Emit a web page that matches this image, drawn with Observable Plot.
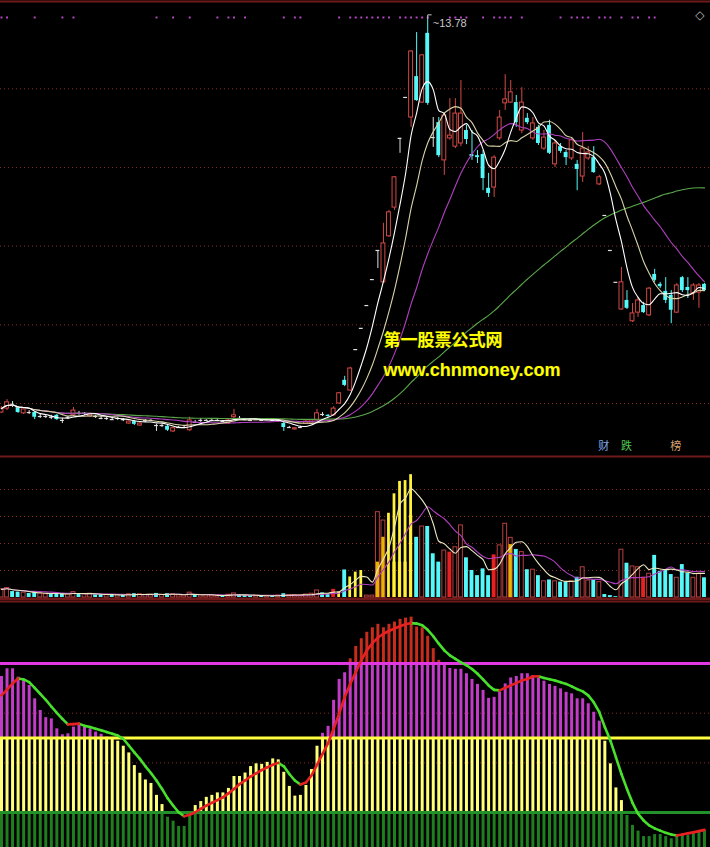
<!DOCTYPE html>
<html><head><meta charset="utf-8">
<script src="https://cdn.jsdelivr.net/npm/d3@7"></script>
<script src="https://cdn.jsdelivr.net/npm/@observablehq/plot@0.6"></script>
<style>
html,body{margin:0;padding:0;background:#000;}
#chart{width:710px;height:847px;background:#000;overflow:hidden;}
#chart svg{display:block;}
</style></head>
<body><div id="chart"></div>
<script>
// ---- price data (one entry per trading day) ----
const open = [3.77,3.87,3.98,3.90,3.75,3.77,3.77,3.67,3.67,3.65,
3.70,3.57,3.65,3.70,3.75,3.75,3.67,3.67,3.62,3.62,
3.59,3.62,3.59,3.49,3.54,3.44,3.57,3.57,3.44,3.44,
3.42,3.29,3.39,3.39,3.32,3.52,3.57,3.57,3.57,3.57,
3.54,3.49,3.65,3.62,3.59,3.57,3.59,3.57,3.59,3.57,
3.57,3.49,3.39,3.34,3.39,3.49,3.49,3.57,3.72,3.70,
3.70,4.00,4.59,4.33,5.37,5.91,6.49,7.15,7.89,7.08,
8.25,8.98,10.74,11.78,11.27,12.31,11.65,13.41,10.76,11.14,
10.18,10.74,10.53,10.61,10.94,10.33,10.30,10.33,9.47,9.49,
10.74,11.63,11.65,11.65,10.94,11.25,10.74,11.02,10.48,11.07,
10.08,10.53,10.38,10.23,10.08,9.77,10.23,10.25,9.57,8.78,
7.89,7.08,6.39,6.62,6.09,6.31,6.49,6.24,7.28,7.03,
6.85,6.75,6.31,7.20,6.95,6.80,6.82,7.03];
const close = [3.87,4.03,3.98,3.77,3.85,3.77,3.65,3.67,3.67,3.65,
3.59,3.57,3.65,3.82,3.75,3.75,3.72,3.67,3.62,3.62,
3.59,3.62,3.59,3.54,3.47,3.49,3.57,3.57,3.44,3.44,
3.32,3.37,3.39,3.39,3.57,3.52,3.57,3.57,3.57,3.57,
3.54,3.57,3.70,3.62,3.59,3.57,3.59,3.57,3.59,3.57,
3.57,3.39,3.39,3.37,3.39,3.54,3.57,3.75,3.72,3.67,
3.87,4.26,4.46,4.89,5.37,5.91,6.49,7.15,7.89,8.07,
8.86,9.75,10.74,11.78,12.95,11.70,12.85,11.63,10.76,10.30,
11.32,10.81,11.37,11.37,10.71,10.28,10.25,9.72,9.34,10.25,
11.27,11.73,11.91,11.14,11.65,11.14,11.12,10.61,10.76,10.36,
10.61,10.41,10.25,10.69,9.95,10.48,10.38,9.87,9.75,8.78,
7.89,7.08,7.08,6.42,6.29,6.62,6.31,6.92,7.13,6.97,
6.62,6.37,7.00,6.87,6.87,7.00,7.00,6.87];
const high = [3.92,4.10,4.05,3.92,3.87,3.82,3.80,3.72,3.70,3.70,
3.72,3.62,3.67,3.90,3.80,3.77,3.75,3.70,3.67,3.65,
3.65,3.65,3.62,3.57,3.57,3.52,3.59,3.59,3.47,3.47,
3.44,3.39,3.42,3.44,3.65,3.57,3.62,3.59,3.62,3.59,
3.57,3.59,3.85,3.67,3.62,3.59,3.62,3.59,3.62,3.59,
3.59,3.52,3.42,3.39,3.42,3.57,3.59,3.85,3.77,3.72,
3.92,4.28,4.69,4.92,5.37,5.91,6.49,7.15,7.89,8.58,
8.91,9.77,10.74,11.78,12.97,13.43,12.87,13.78,11.27,11.27,
11.40,11.75,11.75,12.21,11.07,10.94,10.43,10.43,9.85,10.30,
11.45,12.36,12.21,11.83,12.03,11.37,11.27,11.07,10.94,11.20,
10.69,10.61,10.43,10.74,10.18,10.89,10.53,10.53,9.80,8.78,
7.89,7.08,7.46,6.87,6.54,6.70,6.57,6.95,7.41,7.08,
7.20,6.87,7.05,7.23,7.20,7.05,7.05,7.05];
const low = [3.75,3.82,3.90,3.75,3.72,3.72,3.59,3.62,3.62,3.59,
3.57,3.49,3.59,3.67,3.70,3.70,3.65,3.62,3.59,3.57,
3.57,3.57,3.54,3.47,3.44,3.42,3.52,3.54,3.29,3.39,
3.29,3.26,3.37,3.37,3.29,3.49,3.52,3.54,3.54,3.54,
3.52,3.47,3.62,3.59,3.57,3.54,3.57,3.54,3.57,3.54,
3.52,3.29,3.37,3.32,3.37,3.47,3.47,3.54,3.67,3.65,
3.67,3.98,4.43,4.31,5.37,5.91,6.49,7.15,7.43,7.05,
8.22,8.91,10.36,11.78,11.02,11.68,11.63,11.58,10.51,10.25,
9.80,10.69,10.48,10.53,10.58,10.18,10.10,9.41,9.24,9.24,
10.69,11.45,11.63,11.02,10.86,11.09,10.69,10.56,10.43,10.33,
10.00,10.36,10.05,10.18,9.41,9.62,10.18,9.85,9.54,8.78,
7.89,7.08,6.37,6.39,6.06,6.19,6.29,6.21,7.08,6.92,
6.54,6.03,6.29,6.82,6.67,6.62,6.42,6.85];

// ---- volume ----
const volume = [30,35,22,20,18,15,20,14,12,12,
15,14,12,20,14,12,14,10,10,10,
9,9,9,12,14,12,10,10,15,10,
14,12,8,8,18,10,8,8,7,7,
8,10,15,8,7,7,6,7,6,6,
7,14,9,9,8,11,14,26,17,12,
30,20,102,76,94,100,7,7,316,285,
312,384,430,433,455,223,263,263,162,131,
174,168,186,267,147,100,81,106,81,158,
193,273,221,178,168,103,103,81,60,65,
60,57,57,60,75,112,63,65,57,11,
7,3,177,127,115,112,75,88,156,97,
100,85,73,122,90,73,88,73];
const hotDays = [61,63,64,65,70,71,72,73,74];      // highlighted (yellow) volume days
const redFillDays = [60,81,89,116];                 // solid red volume days
const innerDays = [68,69,71,72,73,74,92];           // inner (gold) volume component
const innerVals = [131,223,131,131,131,304,196];

// ---- indicator ----
const ind = [74.8,77.9,77.9,74.5,73.2,71.2,65.8,61.1,58.2,57.7,
53.7,51.3,51.7,54.4,55.1,54.4,53.7,52.4,51.5,50.4,
50.0,48.7,46.7,44.0,38.9,35.8,33.1,31.7,26.9,23.2,
18.1,16.5,14.4,14.4,20.0,22.8,24.4,26.1,26.9,27.9,
27.9,29.7,34.5,34.5,35.9,38.5,39.6,39.4,40.2,41.6,
41.2,36.2,30.5,26.6,26.9,30.9,37.3,46.7,51.9,54.7,
65.2,73.6,76.3,81.9,86.9,90.0,92.6,94.4,95.8,94.4,
95.8,96.7,97.8,98.3,98.7,94.7,94.4,91.0,86.0,81.3,
79.3,78.0,77.7,77.7,75.9,73.6,71.6,69.2,66.0,66.4,
68.4,71.8,74.2,74.8,75.9,75.9,75.2,74.2,72.9,71.6,
70.8,69.8,68.4,67.8,65.8,65.8,63.8,60.4,56.8,48.7,
39.6,29.9,24.8,18.8,14.8,12.5,10.3,10.3,11.1,11.1,
10.3,9.4,10.7,10.7,10.7,11.4,12.0,12.7];
const sig = [67.2,69.5,72.0,74.0,73.6,72.5,70.2,67.8,65.4,62.7,
60.1,57.7,55.5,55.6,55.8,54.9,54.4,53.7,53.1,52.4,
51.7,51.0,49.7,47.0,44.2,41.6,38.6,35.9,32.9,29.5,
25.8,22.8,20.1,18.5,19.1,20.1,21.5,22.8,23.9,25.0,
26.1,27.7,29.5,31.4,32.9,34.5,35.8,37.1,38.2,39.2,
40.0,38.6,35.5,32.9,31.3,32.1,34.9,39.2,43.6,47.9,
53.7,59.8,66.5,71.8,76.5,81.3,85.3,88.2,90.4,92.0,
93.1,94.1,95.0,95.8,96.3,96.1,95.4,93.6,91.0,88.0,
85.3,83.3,81.9,80.5,79.3,77.8,75.9,73.6,71.2,69.4,
69.2,70.2,71.2,72.1,73.2,73.8,74.8,74.9,74.2,73.7,
73.2,72.5,71.8,70.8,69.7,68.8,67.2,64.4,60.4,54.4,
49.0,42.3,35.5,29.5,23.9,19.5,16.8,14.8,13.6,12.7,
11.8,11.1,10.7,11.1,11.6,12.0,12.5,13.0];
const levels = [20, 50, 80];
const indGrid = [40, 60];
const priceGrid = [4, 6, 8, 10, 12];
const volGrid = [100, 200, 300, 400];
const signalDays = [0,1,6,11,13,28,31,34,39,41,42,44,51,53,54,61,63,64,65,66,67,68,69,70,72,73,74,75,76,77,81,82,83,84,87,89,90,91,92,94,101,103,104,105,106,108,109,110,112,114,115,117,118];
const peak = {i: 77, p: 13.78};
const tagText = ["财", "跌", "榜"];
const tagDay = [108.8, 112.9, 121.8];
const tagColor = ["#7fa8e8", "#52c852", "#d8a070"];

// ---- build table ----
const days = close.map((c, i) => ({
  i, o: open[i], h: high[i], l: low[i], c, v: volume[i],
  prev: i > 0 ? close[i - 1] : open[i], ind: ind[i], sig: sig[i]
}));
days.forEach(d => {
  d.up = d.c > d.o || (d.c === d.o && d.c >= d.prev);
  d.hot = hotDays.includes(d.i);
  d.redFill = redFillDays.includes(d.i);
});
const innerData = innerDays.map((i, k) => ({i, v: innerVals[k]}));
const tags = tagText.map((t, k) => ({t, i: tagDay[k], c: tagColor[k]}));

const W = 710;
const X = {domain: [-0.18, 128.09], axis: null};
const RED = "#d24a46", CYAN = "#54f8f8", GRID = "#8a2a2a", SEP = "#6e1a1a";
const bw = 0.35;

const upC = days.filter(d => d.c > d.o);
const dnC = days.filter(d => d.c < d.o);
const flC = days.filter(d => d.c === d.o);

// ---- top panel: candles ----
const topPlot = Plot.plot({
  width: W, height: 455, margin: 0, x: X,
  y: {domain: [2.678, 14.245], axis: null},
  style: {background: "#000"},
  marks: [
    Plot.ruleY(priceGrid, {stroke: GRID, strokeDasharray: "1,3"}),
    Plot.ruleY([14.245], {stroke: SEP, strokeWidth: 2, dy: 1}),
    Plot.ruleX(upC, {x: "i", y1: "l", y2: "h", stroke: RED}),
    Plot.rect(upC, {x1: d => d.i - bw, x2: d => d.i + bw, y1: "o", y2: "c", fill: "#000", stroke: RED}),
    Plot.ruleX(dnC, {x: "i", y1: "l", y2: "h", stroke: CYAN}),
    Plot.rect(dnC, {x1: d => d.i - bw, x2: d => d.i + bw, y1: "o", y2: "c", fill: CYAN}),
    Plot.ruleX(flC, {x: "i", y1: "l", y2: "h", stroke: "#e0e0e0"}),
    Plot.ruleY(flC, {y: "c", x1: d => d.i - bw, x2: d => d.i + bw, stroke: "#e0e0e0", strokeWidth: 1.2}),
    Plot.lineY(days, Plot.windowY({k: 60, anchor: "end"}, {x: "i", y: "c", stroke: "#5aa84a", strokeWidth: 1.1, curve: "monotone-x"})),
    Plot.lineY(days, Plot.windowY({k: 20, anchor: "end"}, {x: "i", y: "c", stroke: "#b040c0", strokeWidth: 1.1, curve: "monotone-x"})),
    Plot.lineY(days, Plot.windowY({k: 10, anchor: "end"}, {x: "i", y: "c", stroke: "#d8d4a8", strokeWidth: 1.1, curve: "monotone-x"})),
    Plot.lineY(days, Plot.windowY({k: 5, anchor: "end"}, {x: "i", y: "c", stroke: "#ffffff", strokeWidth: 1.1, curve: "monotone-x"})),
    Plot.dot(signalDays, {x: d => d, frameAnchor: "top", dy: 17, r: 1.1, symbol: "square", fill: "#b848c8"}),
    // max-price flag
    Plot.link([peak], {x1: "i", y1: "p", x2: "i", y2: d => d.p + 0.1, stroke: "#c8c8c8"}),
    Plot.link([peak], {x1: "i", y1: d => d.p + 0.1, x2: d => d.i + 0.7, y2: d => d.p + 0.1, stroke: "#c8c8c8"}),
    Plot.text([peak], {x: "i", y: "p", text: d => "~" + d.p.toFixed(2), dx: 5, dy: 5, textAnchor: "start", fill: "#c8c8c8", fontSize: 11, fontFamily: "Liberation Sans"}),
    Plot.text(["◇"], {frameAnchor: "top-right", dx: -6, dy: 10, fill: "#b0b0b0", fontSize: 12, fontFamily: "DejaVu Sans"}),
    Plot.text(["第一股票公式网"], {frameAnchor: "top-left", dx: 383, dy: 340, lineAnchor: "middle", textAnchor: "start", fill: "#ffff00", fontSize: 17, fontWeight: "bold", fontFamily: "Noto Sans CJK SC", stroke: "#3a3a00", strokeWidth: 0.6, paintOrder: "stroke"}),
    Plot.text(["www.chnmoney.com"], {frameAnchor: "top-left", dx: 383, dy: 370, lineAnchor: "middle", textAnchor: "start", fill: "#ffff00", fontSize: 18, fontWeight: "bold", fontFamily: "Liberation Sans", stroke: "#3a3a00", strokeWidth: 0.6, paintOrder: "stroke"}),
    Plot.text(tags, {x: "i", frameAnchor: "bottom", dy: -6, text: "t", fill: "c", fontSize: 11, fontFamily: "Noto Sans CJK SC"})
  ]
});

// ---- volume panel ----
const volUp = days.filter(d => d.up && !d.hot && !d.redFill);
const volDn = days.filter(d => !d.up && !d.hot && !d.redFill);
const volPlot = Plot.plot({
  width: W, height: 145, margin: 0, x: X,
  y: {domain: [-11.1, 526], axis: null},
  style: {background: "#000"},
  marks: [
    Plot.ruleY(volGrid, {stroke: GRID, strokeDasharray: "1,3"}),
    Plot.ruleY([526], {stroke: SEP, strokeWidth: 2, dy: 1}),
    Plot.ruleY([-11.1], {stroke: SEP, strokeWidth: 3, dy: -1.5}),
    Plot.rect(volUp, {x1: d => d.i - bw, x2: d => d.i + bw, y1: 0, y2: "v", fill: "#000", stroke: "#b84040"}),
    Plot.rect(volDn, {x1: d => d.i - bw, x2: d => d.i + bw, y1: 0, y2: "v", fill: CYAN}),
    Plot.rect(days.filter(d => d.redFill), {x1: d => d.i - bw, x2: d => d.i + bw, y1: 0, y2: "v", fill: "#e82020"}),
    Plot.rect(innerData, {x1: d => d.i - 0.3, x2: d => d.i + 0.3, y1: 0, y2: "v", fill: "#e8b400"}),
    Plot.rect(days.filter(d => d.hot), {x1: d => d.i - 0.25, x2: d => d.i + 0.25, y1: 0, y2: "v", fill: "#fff23c"}),
    Plot.lineY(days, Plot.windowY({k: 10, anchor: "end"}, {x: "i", y: "v", stroke: "#b040c0", strokeWidth: 1.1, curve: "monotone-x"})),
    Plot.lineY(days, Plot.windowY({k: 5, anchor: "end"}, {x: "i", y: "v", stroke: "#ece8c0", strokeWidth: 1.1, curve: "monotone-x"}))
  ]
});

// ---- indicator panel ----
const yMin = 5.9, yMax = 105.4;
const bounds = [yMin, ...levels, Infinity];
const segs = [];
days.forEach(d => {
  for (let k = 0; k < 4; k++) {
    const lo = bounds[k], hi = Math.min(d.ind, bounds[k + 1]);
    if (hi > lo) segs.push({i: d.i, lo, hi, band: k});
  }
});
const links = d3.pairs(days).map(([a, b]) => ({i1: a.i, s1: a.sig, i2: b.i, s2: b.sig, up: b.sig >= a.sig}));
const bandColors = ["#1f7f1f", "#ffff78", "#c23cc8", "#c82c1c"];
const levelColors = ["#23912a", "#ffff40", "#e238e2"];
const indPlot = Plot.plot({
  width: W, height: 247, margin: 0, x: X,
  y: {domain: [yMin, yMax], axis: null},
  style: {background: "#000"},
  marks: [
    Plot.ruleY(indGrid, {stroke: GRID, strokeDasharray: "1,3"}),
    ...bandColors.map((c, k) => Plot.ruleX(segs.filter(s => s.band === k), {x: "i", y1: "lo", y2: "hi", stroke: c, strokeWidth: 3})),
    ...levels.map((lv, k) => Plot.ruleY([lv], {stroke: levelColors[k], strokeWidth: 3})),
    Plot.ruleY([yMax], {stroke: SEP, strokeWidth: 2, dy: 1}),
    Plot.link(links.filter(l => !l.up), {x1: "i1", y1: "s1", x2: "i2", y2: "s2", stroke: "#48e02c", strokeWidth: 2.6, strokeLinecap: "round"}),
    Plot.link(links.filter(l => l.up), {x1: "i1", y1: "s1", x2: "i2", y2: "s2", stroke: "#e82222", strokeWidth: 2.6, strokeLinecap: "round"})
  ]
});

const root = document.getElementById("chart");
root.append(topPlot, volPlot, indPlot);
</script>
</body></html>
